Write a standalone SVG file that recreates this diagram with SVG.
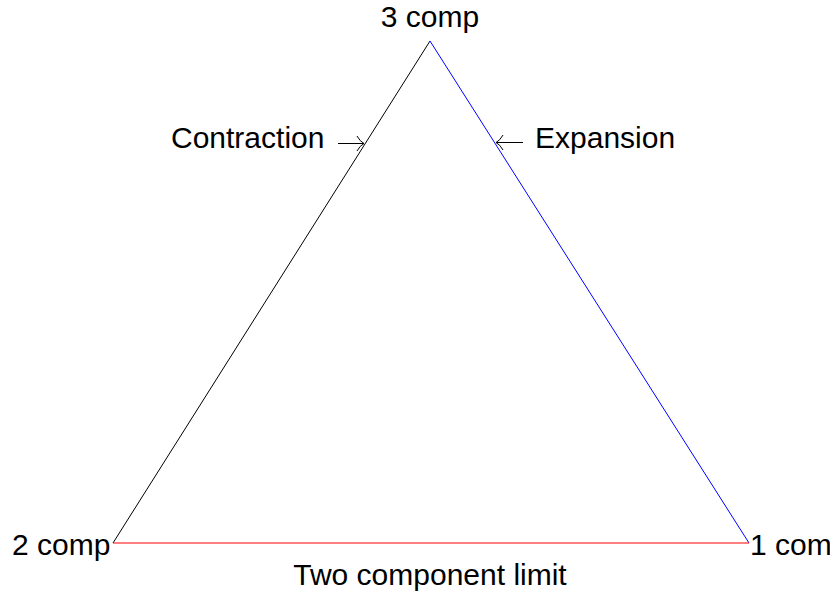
<svg xmlns="http://www.w3.org/2000/svg" width="830" height="597" viewBox="0 0 830 597">
<style>
text{font-family:"Liberation Sans",Arial,sans-serif;font-size:30px;fill:#000}
.e{fill:none;stroke-width:1}
.arr{fill:none;stroke:#000;stroke-width:1}
</style>
<rect width="830" height="597" fill="#fff"/>
<g id="connectors">
<line class="e" x1="113" y1="543" x2="430" y2="41" stroke="#000"/>
<line class="e" x1="430" y1="41" x2="749" y2="543" stroke="#0000ff"/>
<line class="e" x1="113" y1="543" x2="749" y2="543" stroke="#ff0000"/>
</g>
<g id="v3"><text x="430" y="27" text-anchor="middle">3 comp</text></g>
<g id="v2"><text x="12" y="555">2 comp</text></g>
<g id="v1"><text x="750" y="555">1 comp</text></g>
<g id="limit"><text x="430" y="585" text-anchor="middle">Two component limit</text></g>
<g id="contraction">
<text x="171" y="148">Contraction</text>
<path class="arr" d="M338,143.5 H364 M357,136 Q360,141.5 364,143.5 Q360,145.5 357,151"/>
</g>
<g id="expansion">
<text x="535" y="148">Expansion</text>
<path class="arr" d="M523,142.5 H496 M503,135 Q500,140.5 496,142.5 Q500,144.5 503,150"/>
</g>
</svg>
